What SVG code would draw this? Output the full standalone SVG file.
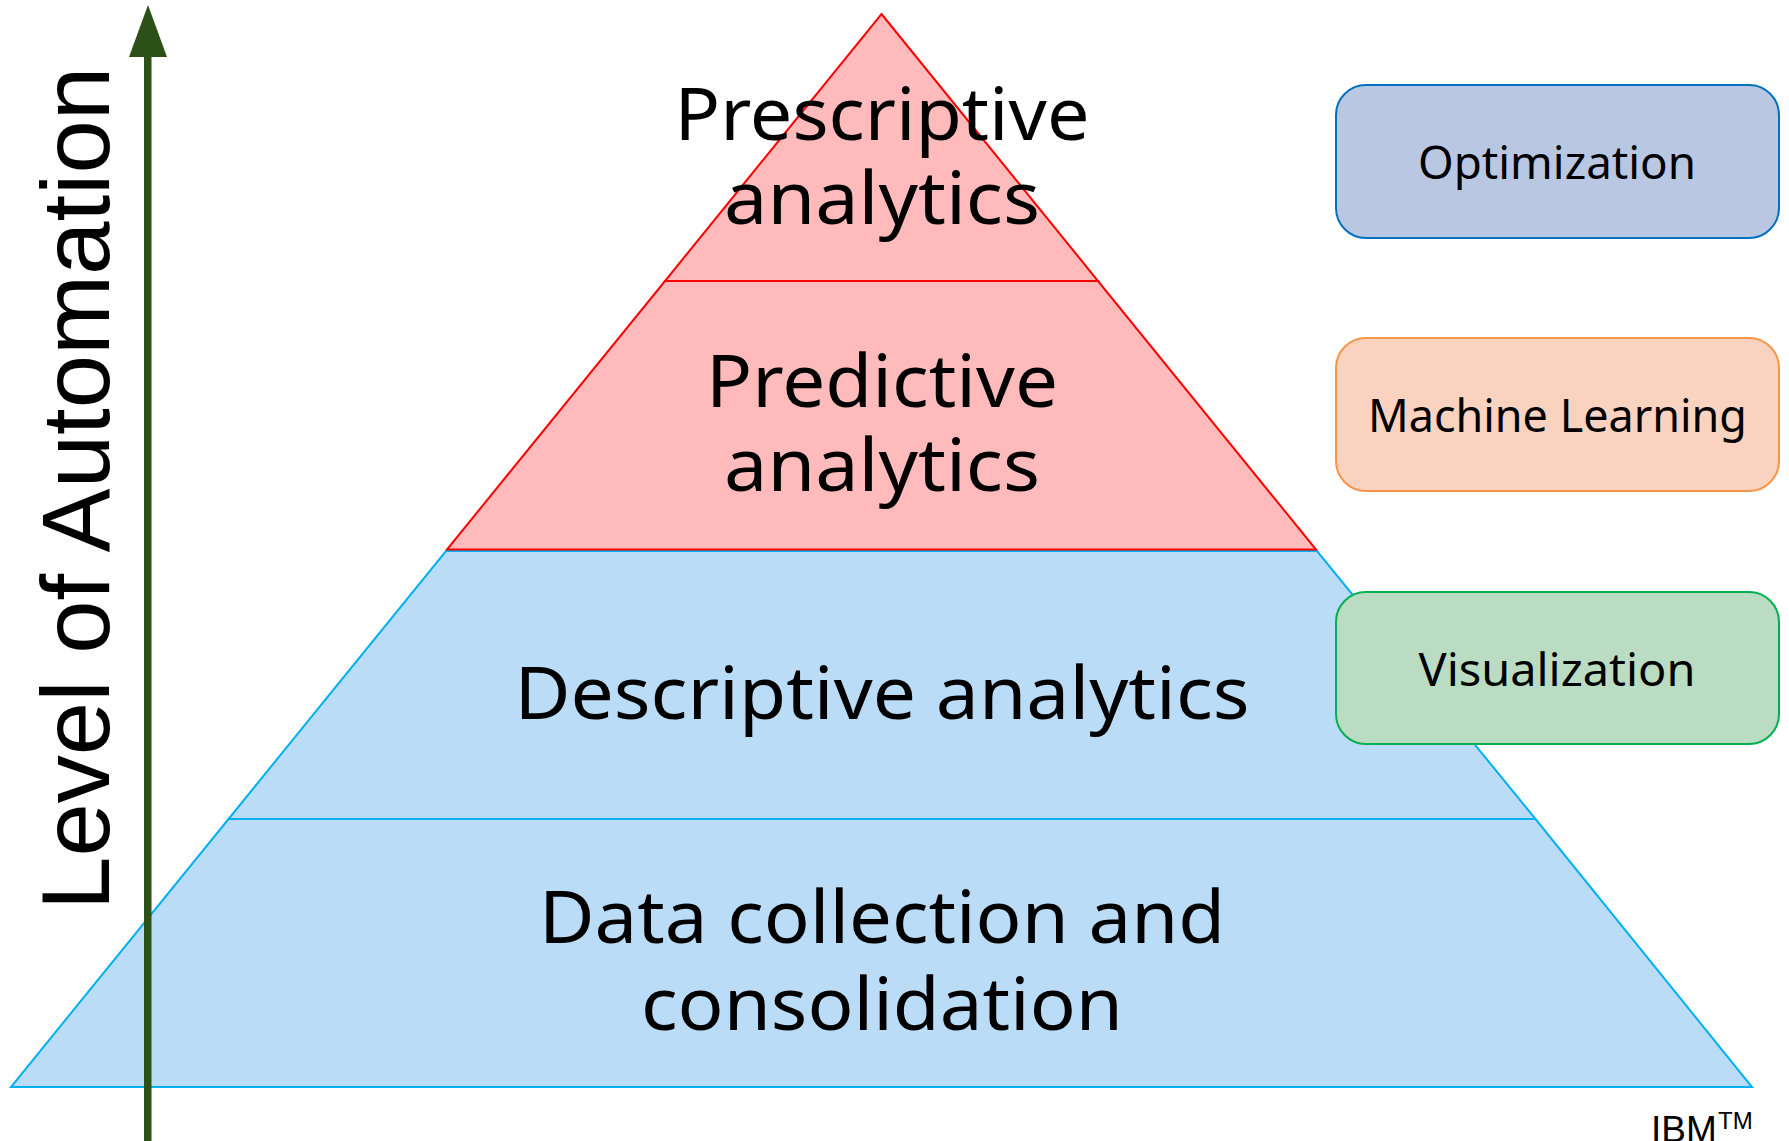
<svg xmlns="http://www.w3.org/2000/svg" width="1789" height="1141" viewBox="0 0 1789 1141">
  <style>
    .tier-red { fill: #FFBBBB; stroke: #FF0000; stroke-width: 2; stroke-linejoin: miter; }
    .tier-blue { fill: #BBDCF6; stroke: #00B0F0; stroke-width: 2; stroke-linejoin: miter; }
    .tier-label { font-family: "Noto Sans", "Open Sans", sans-serif; font-size: 73px; fill: #000; text-anchor: middle; }
    .tool-label { font-family: "Noto Sans", "Open Sans", sans-serif; font-size: 45px; fill: #000; text-anchor: middle; }
    .axis-label { font-family: "Liberation Sans", Arial, sans-serif; font-size: 96px; fill: #000; }
    .credit { font-family: "Liberation Sans", Arial, sans-serif; fill: #000; }
    .box { stroke-width: 2; }
  </style>

  <!-- Pyramid tiers -->
  <g id="tier-data-collection">
    <polygon class="tier-blue" points="228.5,819 1535.5,819 1752,1087 11,1087"/>
    <text class="tier-label" x="882" y="943" textLength="686" lengthAdjust="spacingAndGlyphs">Data collection and</text>
    <text class="tier-label" x="882" y="1030" textLength="482" lengthAdjust="spacingAndGlyphs">consolidation</text>
  </g>
  <g id="tier-descriptive">
    <polygon class="tier-blue" points="446,551 1317,551 1535.5,819 228.5,819"/>
    <text class="tier-label" x="882" y="719" textLength="735" lengthAdjust="spacingAndGlyphs">Descriptive analytics</text>
  </g>
  <g id="tier-predictive">
    <polygon class="tier-red" points="665,281 1098,281 1316,549.5 447,549.5"/>
    <text class="tier-label" x="882" y="407" textLength="352" lengthAdjust="spacingAndGlyphs">Predictive</text>
    <text class="tier-label" x="882" y="491" textLength="316" lengthAdjust="spacingAndGlyphs">analytics</text>
  </g>
  <g id="tier-prescriptive">
    <polygon class="tier-red" points="881.5,14 1098,281 665,281"/>
    <text class="tier-label" x="882" y="140" textLength="415" lengthAdjust="spacingAndGlyphs">Prescriptive</text>
    <text class="tier-label" x="882" y="224" textLength="316" lengthAdjust="spacingAndGlyphs">analytics</text>
  </g>

  <!-- Techniques -->
  <g id="box-optimization">
    <rect class="box" x="1336" y="85" width="443" height="153" rx="30" ry="30" fill="#B9C7E2" stroke="#0070C0"/>
    <text class="tool-label" x="1557" y="179" textLength="278" lengthAdjust="spacingAndGlyphs">Optimization</text>
  </g>
  <g id="box-machine-learning">
    <rect class="box" x="1336" y="338" width="443" height="153" rx="30" ry="30" fill="#FAD2C0" stroke="#F79646"/>
    <text class="tool-label" x="1557.5" y="432" textLength="379" lengthAdjust="spacingAndGlyphs">Machine Learning</text>
  </g>
  <g id="box-visualization">
    <rect class="box" x="1336" y="592" width="443" height="152" rx="30" ry="30" fill="#BADCC2" stroke="#00B050"/>
    <text class="tool-label" x="1557" y="686" textLength="277" lengthAdjust="spacingAndGlyphs">Visualization</text>
  </g>

  <!-- Automation axis -->
  <g id="connectors">
    <rect x="144" y="55" width="7.5" height="1090" fill="#2C5118"/>
    <polygon points="148,5 129,57 167,57" fill="#2C5118"/>
  </g>
  <g id="axis-label">
    <text class="axis-label" transform="translate(109,910) rotate(-90)" x="0" y="0">Level of Automation</text>
  </g>

  <g id="credit">
    <text class="credit" x="1651" y="1142" font-size="37">IBM</text>
    <text class="credit" x="1718" y="1129" font-size="24">TM</text>
  </g>
</svg>
